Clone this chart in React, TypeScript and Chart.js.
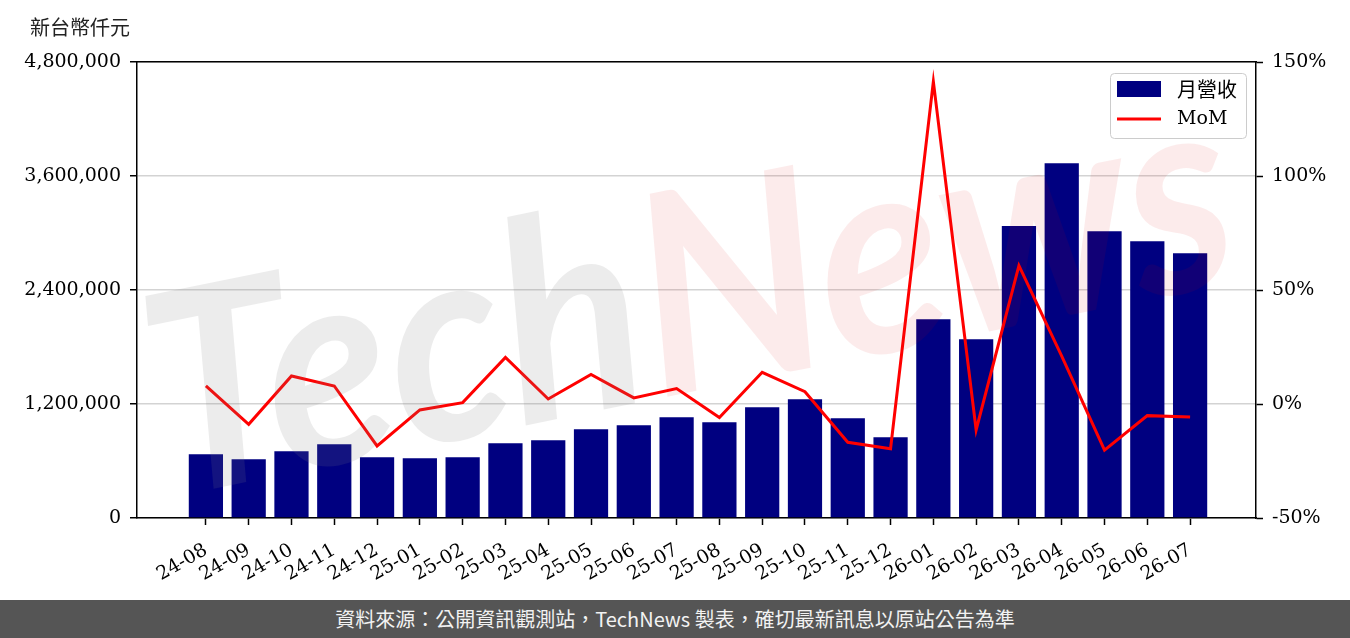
import React, { useEffect, useRef } from "react";
import Chart from "chart.js/auto";

const months = [
  "24-08", "24-09", "24-10", "24-11", "24-12", "25-01", "25-02", "25-03",
  "25-04", "25-05", "25-06", "25-07", "25-08", "25-09", "25-10", "25-11",
  "25-12", "26-01", "26-02", "26-03", "26-04", "26-05", "26-06", "26-07",
];
// 月營收, 新台幣仟元
const revenue = [
  670000, 618000, 702000, 776000, 639000, 628000, 639000, 786000,
  818000, 934000, 976000, 1060000, 1007000, 1165000, 1250000, 1050000,
  850000, 2092000, 1881000, 3074000, 3734000, 3018000, 2913000, 2787000,
];
// MoM, %
const mom = [
  7.9, -8.9, 12.3, 7.9, -18.4, -2.6, 0.6, 20.4,
  2.2, 13.0, 2.7, 6.8, -5.9, 13.9, 5.4, -16.8,
  -19.6, 141.4, -11.4, 60.7, 21.0, -20.2, -5.1, -5.7,
];
const unitLabel = "新台幣仟元";
const sourceNote = "資料來源：公開資訊觀測站，TechNews 製表，確切最新訊息以原站公告為準";

const serif = "'DejaVu Serif', serif";
const cjk = "'Noto Sans CJK TC', 'Noto Sans', sans-serif";
const xMin = -1.61;
const xMax = 24.54;

const extras = {
  id: "extras",
  afterDatasetsDraw(chart: any) {
    const { ctx } = chart;
    // watermark
    ctx.save();
    ctx.translate(690, 300);
    ctx.rotate(-0.2);
    ctx.font = "italic bold 280px Lato";
    ctx.textBaseline = "middle";
    const w1 = ctx.measureText("Tech").width;
    const w2 = ctx.measureText("News").width;
    const sx = 1100 / (w1 + w2);
    ctx.scale(sx, 1);
    const start = -(w1 + w2) / 2;
    ctx.fillStyle = "rgba(128,128,128,0.15)";
    ctx.fillText("Tech", start, 0);
    ctx.fillStyle = "rgba(220,0,0,0.08)";
    ctx.fillText("News", start + w1, 0);
    ctx.restore();
  },
  afterDraw(chart: any) {
    const { ctx, chartArea } = chart;
    ctx.save();
    // unit label
    ctx.font = `20px ${cjk}`;
    ctx.fillStyle = "#222";
    ctx.textBaseline = "middle";
    ctx.textAlign = "left";
    ctx.fillText(unitLabel, 30, 27);

    // legend
    const L = chartArea.right - 146;
    const T = chartArea.top + 11;
    ctx.beginPath();
    ctx.roundRect(L + 0.5, T + 0.5, 136, 65, 4);
    ctx.fillStyle = "rgba(255,255,255,0.8)";
    ctx.fill();
    ctx.strokeStyle = "#cccccc";
    ctx.lineWidth = 1;
    ctx.stroke();
    ctx.fillStyle = "#000080";
    ctx.fillRect(L + 7, T + 8, 44, 16);
    ctx.beginPath();
    ctx.moveTo(L + 7, T + 46);
    ctx.lineTo(L + 51, T + 46);
    ctx.strokeStyle = "#ff0000";
    ctx.lineWidth = 3;
    ctx.stroke();
    ctx.fillStyle = "#000";
    ctx.font = `20px ${cjk}`;
    ctx.fillText("月營收", L + 67, T + 16);
    ctx.font = `19px ${serif}`;
    ctx.fillText("MoM", L + 67, T + 46);
    ctx.restore();
  },
};

const RevenueChart = () => {
  const chartRef = useRef<HTMLCanvasElement | null>(null);

  useEffect(() => {
    if (!chartRef.current) return;
    const ctx = chartRef.current.getContext("2d");
    if (!ctx) return;

    const tickFont = { family: serif, size: 19 };

    const chart = new Chart(ctx, {
      type: "bar",
      data: {
        datasets: [
          {
            type: "line",
            label: "MoM",
            data: mom.map((v, i) => ({ x: i, y: v })),
            yAxisID: "y2",
            borderColor: "#ff0000",
            borderWidth: 3,
            pointRadius: 0,
            tension: 0,
            order: 0,
          },
          {
            type: "bar",
            label: "月營收",
            data: revenue.map((v, i) => ({ x: i, y: v })),
            yAxisID: "y",
            backgroundColor: "#000080",
            barPercentage: 0.8,
            categoryPercentage: 1,
            order: 1,
          },
        ] as any,
      },
      options: {
        animation: false,
        responsive: true,
        maintainAspectRatio: false,
        layout: { padding: 0 },
        plugins: {
          legend: { display: false },
          tooltip: { enabled: false },
        },
        scales: {
          x: {
            type: "linear",
            position: "bottom",
            offset: false,
            min: xMin,
            max: xMax,
            afterBuildTicks: (s: any) => {
              s.ticks = months.map((_, i) => ({ value: i }));
            },
            afterFit: (s: any) => {
              s.height = 82;
            },
            ticks: {
              autoSkip: false,
              minRotation: 30,
              maxRotation: 30,
              padding: 14,
              color: "#000",
              font: tickFont,
              callback: (v: any) => months[Math.round(Number(v))],
            },
            grid: {
              offset: false,
              drawOnChartArea: false,
              tickLength: 7,
              tickColor: "#000",
              tickWidth: 1.5,
            },
            border: { color: "#000", width: 1.5 },
          },
          xTop: {
            type: "linear",
            position: "top",
            offset: false,
            min: xMin,
            max: xMax,
            afterFit: (s: any) => {
              s.height = 62;
            },
            ticks: { display: false },
            grid: { display: false },
            border: { color: "#000", width: 1.5 },
          },
          y: {
            position: "left",
            min: 0,
            max: 4800000,
            afterFit: (s: any) => {
              s.width = 137;
            },
            ticks: {
              stepSize: 1200000,
              padding: 9,
              color: "#000",
              font: tickFont,
              callback: (v: any) => Number(v).toLocaleString("en-US"),
            },
            grid: {
              color: "#d3d3d3",
              lineWidth: 1.5,
              tickLength: 7,
              tickColor: "#000",
              tickWidth: 1.5,
            },
            border: { color: "#000", width: 1.5 },
          },
          y2: {
            position: "right",
            min: -50,
            max: 150,
            afterFit: (s: any) => {
              s.width = 94;
            },
            ticks: {
              stepSize: 50,
              padding: 9,
              color: "#000",
              font: tickFont,
              callback: (v: any) => `${v}%`,
            },
            grid: {
              drawOnChartArea: false,
              tickLength: 7,
              tickColor: "#000",
              tickWidth: 1.5,
            },
            border: { color: "#000", width: 1.5 },
          },
        },
      },
      plugins: [extras],
    });

    return () => {
      chart.destroy();
    };
  }, []);

  return <canvas ref={chartRef} />;
};

export default function App() {
  return (
    <div style={{ position: "fixed", inset: 0, background: "#fff" }}>
      <div style={{ position: "relative", width: 1350, height: 600 }}>
        <RevenueChart />
      </div>
      <div
        style={{
          position: "absolute",
          left: 0,
          top: 600,
          width: 1350,
          height: 38,
          background: "#555555",
          color: "#f2f2f2",
          fontFamily: cjk,
          fontSize: 20,
          lineHeight: "38px",
          textAlign: "center",
        }}
      >
        {sourceNote}
      </div>
    </div>
  );
}
